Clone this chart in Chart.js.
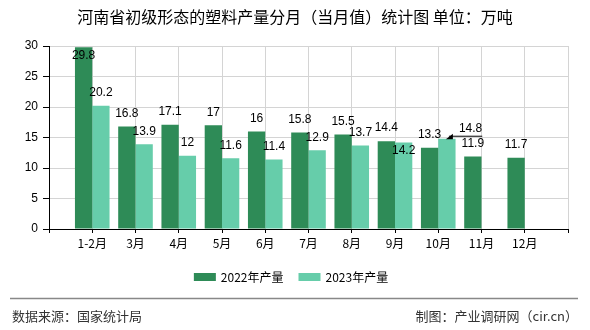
<!DOCTYPE html>
<html>
<head>
<meta charset="utf-8">
<script src="https://cdn.jsdelivr.net/npm/chart.js@4"></script>
<style>
  html, body { margin: 0; padding: 0; background: #fff; }
  #wrap { width: 590px; height: 330px; position: relative; }
</style>
</head>
<body>
<div id="wrap"><canvas id="c" width="590" height="330"></canvas></div>
<script>
// 数据
const months = ['1-2月', '3月', '4月', '5月', '6月', '7月', '8月', '9月', '10月', '11月', '12月'];
const output2022 = [29.8, 16.8, 17.1, 17, 16, 15.8, 15.5, 14.4, 13.3, 11.9, 11.7];
const output2023 = [20.2, 13.9, 12, 11.6, 11.4, 12.9, 13.7, 14.2, 14.8, null, null];
const seriesNames = ['2022年产量', '2023年产量'];
const yTicks = [0, 5, 10, 15, 20, 25, 30];

const titleText = '河南省初级形态的塑料产量分月（当月值）统计图 单位：万吨';
const sourceText = '数据来源：国家统计局';
const makerText = '制图：产业调研网（cir.cn）';

const CJK = "'Noto Sans CJK SC', 'Noto Sans', sans-serif";
const colors = ['#2e8b57', '#66cdaa'];

// 两端各留一个空位，使分类落在网格线上
const labels = [''].concat(months, ['']);
const pad = arr => [null].concat(arr, [null]);

// 标题、图例、页脚、数值标签
const decor = {
    id: 'decor',
    afterDraw(chart) {
        const ctx = chart.ctx;
        const area = chart.chartArea;
        ctx.save();

        ctx.fillStyle = '#000';
        ctx.font = '16px ' + CJK;
        ctx.textAlign = 'center';
        ctx.textBaseline = 'middle';
        ctx.fillText(titleText, 295, 17);

        // 图例
        ctx.font = '12px ' + CJK;
        const boxW = 22, boxH = 8, gap = 5, itemGap = 15;
        const widths = chart.data.datasets.map(d => boxW + gap + ctx.measureText(d.label).width);
        const total = widths.reduce((a, b) => a + b, 0) + itemGap * (widths.length - 1);
        let lx = 291 - total / 2;
        chart.data.datasets.forEach((d, i) => {
            ctx.fillStyle = d.backgroundColor;
            ctx.fillRect(lx, 273, boxW, boxH);
            ctx.fillStyle = '#000';
            ctx.textAlign = 'left';
            ctx.fillText(d.label, lx + boxW + gap, 277);
            lx += widths[i] + itemGap;
        });

        // 分隔线与页脚
        ctx.strokeStyle = '#888';
        ctx.lineWidth = 1.5;
        ctx.beginPath();
        ctx.moveTo(10, 298.5);
        ctx.lineTo(578, 298.5);
        ctx.stroke();
        ctx.fillStyle = '#333';
        ctx.font = '13px ' + CJK;
        ctx.textAlign = 'left';
        ctx.fillText(sourceText, 12, 316);
        ctx.textAlign = 'right';
        ctx.fillText(makerText, 578, 316);

        // 数值标签
        ctx.font = "12px 'Liberation Sans', sans-serif";
        ctx.fillStyle = '#000';
        ctx.textAlign = 'center';
        const placed = [];
        const overlaps = (x, y, w, list, minGap) => list.some(b =>
            Math.abs(b.x - x) < (b.w + w) / 2 && Math.abs(b.y - y) < minGap);
        chart.data.datasets.forEach((d, di) => {
            const meta = chart.getDatasetMeta(di);
            meta.data.forEach((bar, j) => {
                const v = d.data[j];
                if (v === null || v === undefined) return;
                const txt = String(v);
                const w = ctx.measureText(txt).width;
                const others = placed.filter(p => p.j === j || Math.abs(p.x - bar.x) < 30);
                let y = bar.y - 13;
                if (y - 6 < area.top) y = bar.y + 8;
                if (di > 0 && overlaps(bar.x, y, w, others, 10)) {
                    const yIn = bar.y + 8;
                    if (!overlaps(bar.x, yIn, w, others, 14)) {
                        y = yIn;
                    } else {
                        // 引线标注
                        const ax = bar.x + 2, ay = bar.y;
                        const lineY = ay - 2.5;
                        const endX = ax + w + 10;
                        ctx.beginPath();
                        ctx.moveTo(ax - 3, ay + 0.5);
                        ctx.lineTo(ax + 4, ay - 5);
                        ctx.lineTo(ax + 4, ay + 0.5);
                        ctx.closePath();
                        ctx.fill();
                        ctx.strokeStyle = '#000';
                        ctx.lineWidth = 1;
                        ctx.beginPath();
                        ctx.moveTo(ax, lineY);
                        ctx.lineTo(endX, lineY);
                        ctx.stroke();
                        ctx.textAlign = 'right';
                        ctx.fillText(txt, endX, lineY - 8);
                        ctx.textAlign = 'center';
                        placed.push({ j, x: endX - w / 2, y: lineY - 8, w });
                        return;
                    }
                }
                ctx.fillText(txt, bar.x, y);
                placed.push({ j, x: bar.x, y, w });
            });
        });

        ctx.restore();
    }
};

new Chart(document.getElementById('c'), {
    type: 'bar',
    data: {
        labels: labels,
        datasets: [
            { label: seriesNames[0], data: pad(output2022), backgroundColor: colors[0] },
            { label: seriesNames[1], data: pad(output2023), backgroundColor: colors[1] }
        ]
    },
    options: {
        responsive: false,
        animation: false,
        datasets: { bar: { categoryPercentage: 0.8, barPercentage: 1.0 } },
        layout: { padding: { left: 0, right: 22, top: 46, bottom: 79 } },
        scales: {
            x: {
                offset: false,
                grid: { color: '#d4d4d4', tickColor: '#000', tickLength: 4, offset: false },
                border: { color: '#000', width: 1 },
                ticks: { color: '#000', padding: 3, maxRotation: 0, autoSkip: false, font: { size: 12, family: CJK } },
                afterFit(s) { s.height = 22; }
            },
            y: {
                min: yTicks[0],
                max: yTicks[yTicks.length - 1],
                afterBuildTicks(s) { s.ticks = yTicks.map(v => ({ value: v })); },
                grid: { color: '#d4d4d4', tickColor: '#000', tickLength: 6 },
                border: { color: '#000', width: 1 },
                ticks: { color: '#000', padding: 5, font: { size: 12, family: "'Liberation Sans', sans-serif" } },
                afterFit(s) { s.width = 49; }
            }
        },
        plugins: { legend: { display: false }, tooltip: { enabled: false } }
    },
    plugins: [decor]
});
</script>
</body>
</html>
